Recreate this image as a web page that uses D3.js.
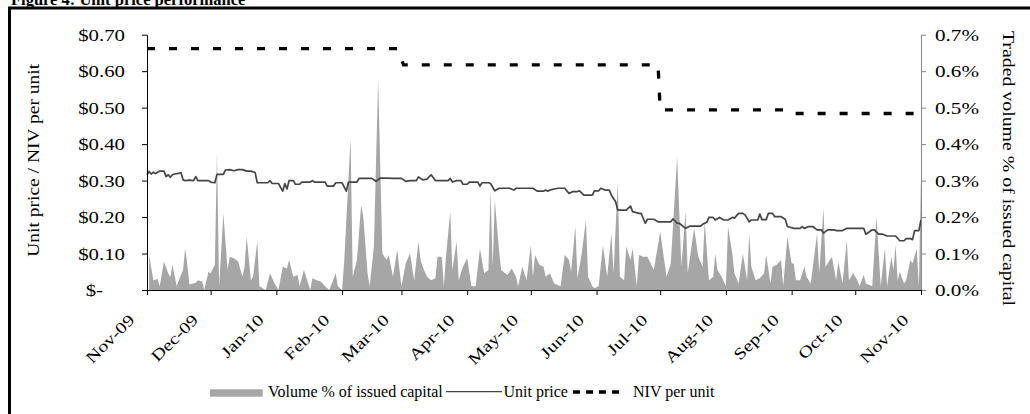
<!DOCTYPE html>
<html>
<head>
<meta charset="utf-8">
<script src="https://cdn.jsdelivr.net/npm/d3@7"></script>
<style>
  html, body { margin: 0; padding: 0; background: #fff; }
  svg { display: block; }
  text { font-family: "Liberation Serif", "Times New Roman", Times, serif; fill: #000; }
</style>
</head>
<body>
<svg id="chart" width="1030" height="414"></svg>
<script>
// ---- data -------------------------------------------------------------
const periodStart = new Date(Date.UTC(2009, 10, 1));   // 1 Nov 2009
const periodEnd   = new Date(Date.UTC(2010, 10, 1));   // 1 Nov 2010

// Traded volume, % of issued capital (day = days since 1 Nov 2009)
const volumeDay = [1,3,5,6,8,10,11,12,14,16,17,18,19,20,23,24,26,27,29,30,32,33,34,36,38,39,41,43,45,46,47,49,50,52,53,56,58,60,62,64,66,67,69,71,72,74,75,77,78,80,82,84,86,89,90,92,93,96,97,99,101,102,104,105,107,109,111,113,114,116,118,120,122,124,126,128,129,130,132,134,136,137,139,140,141,143,144,146,147,149,151,153,155,157,159,161,162,163,164,166,167,170,172,174,175,177,179,181,182,183,185,187,188,190,192,195,197,199,200,202,203,205,207,208,210,211,213,215,217,219,220,222,223,225,226,228,229,231,232,234,236,239,242,243,245,247,250,252,254,255,258,260,262,263,265,267,268,269,271,273,274,276,277,279,281,283,284,285,287,289,291,292,294,295,297,299,300,302,304,305,306,308,310,311,313,316,317,319,320,323,325,326,328,330,331,333,335,336,338,339,342,344,346,348,349,351,352,353,354,355,357,358,360,361,363,364,365];
const volumePct = [0.096,0.027,0.030,0.010,0.078,0.046,0.035,0.069,0.010,0.041,0.055,0.114,0.070,0.015,0.020,0.027,0.023,0.000,0.050,0.046,0.069,0.379,0.010,0.210,0.055,0.091,0.087,0.078,0.036,0.064,0.146,0.027,0.036,0.133,0.010,0.000,0.046,0.020,0.000,0.064,0.059,0.082,0.036,0.041,0.010,0.055,0.036,0.000,0.032,0.027,0.023,0.010,0.000,0.046,0.010,0.000,0.078,0.416,0.036,0.082,0.233,0.200,0.046,0.010,0.119,0.576,0.100,0.082,0.096,0.036,0.110,0.010,0.073,0.100,0.027,0.133,0.082,0.064,0.036,0.027,0.032,0.091,0.091,0.010,0.091,0.215,0.055,0.133,0.027,0.064,0.087,0.010,0.010,0.114,0.046,0.055,0.274,0.064,0.247,0.110,0.055,0.041,0.059,0.036,0.010,0.064,0.027,0.123,0.036,0.096,0.069,0.064,0.036,0.046,0.018,0.010,0.096,0.082,0.050,0.174,0.032,0.100,0.192,0.036,0.010,0.005,0.010,0.123,0.036,0.155,0.046,0.297,0.036,0.027,0.119,0.082,0.114,0.010,0.096,0.091,0.091,0.055,0.160,0.119,0.036,0.073,0.365,0.064,0.215,0.046,0.169,0.091,0.064,0.187,0.027,0.036,0.100,0.055,0.036,0.010,0.174,0.100,0.046,0.018,0.100,0.027,0.155,0.064,0.027,0.032,0.046,0.096,0.018,0.064,0.069,0.082,0.010,0.146,0.073,0.073,0.027,0.027,0.064,0.036,0.018,0.155,0.046,0.224,0.064,0.091,0.027,0.078,0.018,0.137,0.027,0.046,0.027,0.010,0.041,0.018,0.010,0.201,0.010,0.114,0.010,0.091,0.055,0.123,0.027,0.050,0.018,0.027,0.082,0.073,0.114,0.010,0.311];

// Unit price, $ (day = days since 1 Nov 2009)
const priceDay = [0,1,2,3,4,5,6,8,9,10,11,12,13,15,16,17,18,20,22,23,24,27,29,30,32,33,36,37,39,41,43,45,47,49,51,52,55,57,58,59,62,64,65,66,67,69,70,72,73,77,78,79,84,85,88,89,92,94,95,99,100,104,106,108,110,113,116,120,122,124,127,128,130,132,134,136,140,142,143,144,146,148,149,151,152,156,157,158,161,162,164,166,171,173,174,182,184,187,188,189,190,192,194,197,199,201,203,204,206,210,211,213,214,216,218,219,221,222,226,228,229,232,233,235,236,239,241,247,248,250,251,254,256,261,262,264,265,267,268,270,272,274,276,277,279,281,282,284,285,288,289,290,292,293,295,296,299,301,302,305,308,309,310,312,314,316,318,319,321,324,325,328,330,338,339,342,343,345,347,349,353,355,357,358,360,361,362,364,365];
const unitPrice = [0.316,0.325,0.318,0.323,0.319,0.323,0.326,0.326,0.311,0.316,0.309,0.316,0.318,0.320,0.322,0.302,0.300,0.301,0.300,0.311,0.300,0.300,0.300,0.296,0.294,0.317,0.317,0.329,0.330,0.327,0.330,0.330,0.326,0.326,0.322,0.294,0.294,0.294,0.300,0.292,0.292,0.271,0.292,0.277,0.300,0.300,0.290,0.290,0.296,0.296,0.300,0.296,0.296,0.285,0.285,0.294,0.294,0.271,0.296,0.296,0.306,0.306,0.306,0.298,0.307,0.307,0.306,0.306,0.298,0.300,0.300,0.310,0.302,0.304,0.316,0.300,0.300,0.300,0.306,0.296,0.300,0.300,0.290,0.290,0.296,0.296,0.285,0.294,0.294,0.292,0.272,0.279,0.279,0.274,0.279,0.279,0.271,0.271,0.274,0.271,0.274,0.277,0.279,0.279,0.265,0.270,0.270,0.272,0.260,0.260,0.272,0.272,0.279,0.274,0.274,0.260,0.242,0.219,0.219,0.230,0.215,0.210,0.210,0.183,0.194,0.194,0.187,0.187,0.195,0.183,0.183,0.169,0.175,0.175,0.180,0.186,0.199,0.199,0.192,0.199,0.192,0.192,0.199,0.197,0.210,0.210,0.206,0.187,0.192,0.192,0.208,0.193,0.193,0.210,0.210,0.201,0.201,0.194,0.174,0.169,0.169,0.174,0.169,0.174,0.174,0.165,0.165,0.156,0.165,0.165,0.163,0.163,0.169,0.169,0.153,0.165,0.165,0.153,0.153,0.148,0.148,0.135,0.135,0.141,0.141,0.138,0.163,0.163,0.192];

// Net indicative value per unit, $ (day = days since 1 Nov 2009)
const nivDay     = [0, 118, 121, 241, 242, 303, 305, 365];
const nivPerUnit = [0.662, 0.662, 0.617, 0.617, 0.494, 0.494, 0.484, 0.484];

const priceTicks  = [0, 0.1, 0.2, 0.3, 0.4, 0.5, 0.6, 0.7];
const volumeTicks = [0, 0.1, 0.2, 0.3, 0.4, 0.5, 0.6, 0.7];
const titleText   = "Figure 4: Unit price performance";
const leftTitle   = "Unit price / NIV per unit";
const rightTitle  = "Traded volume % of issued capital";
const legendNames = ["Volume % of issued capital", "Unit price", "NIV per unit"];

// ---- layout -----------------------------------------------------------
const plot = { left: 147, right: 921, top: 34.7, bottom: 290 };
const colors = { volume: "#a6a6a6", price: "#454545", niv: "#000", rightAxis: "#868686" };

const svg = d3.select("#chart");
const dayDate = d => d3.utcDay.offset(periodStart, d);

const x = d3.scaleUtc().domain([periodStart, periodEnd]).range([plot.left, plot.right]);
const yPrice = d3.scaleLinear().domain([0, 0.7]).range([plot.bottom, plot.top]);
const yVol   = d3.scaleLinear().domain([0, 0.7]).range([plot.bottom, plot.top]);

// frame and title
svg.append("line").attr("x1", 9.5).attr("x2", 9.5).attr("y1", 7).attr("y2", 414)
   .attr("stroke", "#000").attr("stroke-width", 3);
svg.append("line").attr("x1", 8).attr("x2", 1030).attr("y1", 8).attr("y2", 8)
   .attr("stroke", "#000").attr("stroke-width", 3);
svg.append("text").attr("x", 11).attr("y", 5)
   .attr("font-size", 16.5).attr("font-weight", "bold").text(titleText);

// volume area
const volumeData = volumeDay.map((d, i) => ({ date: dayDate(d), v: volumePct[i] }));
svg.append("path").datum(volumeData)
   .attr("fill", colors.volume)
   .attr("d", d3.area().x(d => x(d.date)).y0(yVol(0)).y1(d => yVol(d.v)));

// unit price line
const priceData = priceDay.map((d, i) => ({ date: dayDate(d), v: unitPrice[i] }));
svg.append("path").datum(priceData)
   .attr("fill", "none").attr("stroke", colors.price).attr("stroke-width", 1.7)
   .attr("stroke-linejoin", "round")
   .attr("d", d3.line().x(d => x(d.date)).y(d => yPrice(d.v)));

// NIV per unit line
const nivData = nivDay.map((d, i) => ({ date: dayDate(d), v: nivPerUnit[i] }));
svg.append("path").datum(nivData)
   .attr("fill", "none").attr("stroke", colors.niv).attr("stroke-width", 3.3)
   .attr("stroke-dasharray", "8,14")
   .attr("d", d3.line().x(d => x(d.date)).y(d => yPrice(d.v)));

// left axis ($)
const leftAxis = svg.append("g").attr("transform", `translate(${plot.left},0)`)
  .call(d3.axisLeft(yPrice).tickValues(priceTicks).tickSizeInner(5).tickSizeOuter(0)
        .tickFormat(d => d === 0 ? "$-" : "$" + d.toFixed(2)));
leftAxis.selectAll("path, line").attr("stroke", "#000");
leftAxis.selectAll("text")
  .attr("x", null).attr("dy", null)
  .attr("font-size", 16).attr("font-family", null)
  .attr("transform", d => `translate(${d === 0 ? -44 : -22},5.8) scale(1.3,1)`);

// right axis (%)
const rightAxis = svg.append("g").attr("transform", `translate(${plot.right},0)`)
  .call(d3.axisRight(yVol).tickValues(volumeTicks).tickSizeInner(5).tickSizeOuter(0)
        .tickFormat(d => d.toFixed(1) + "%"));
rightAxis.selectAll("path, line").attr("stroke", colors.rightAxis);
rightAxis.selectAll("text")
  .attr("x", null).attr("dy", null)
  .attr("font-size", 16).attr("font-family", null)
  .attr("transform", "translate(14,5.8) scale(1.32,1)");

// bottom axis (months)
const monthTicks = d3.utcMonth.range(periodStart, d3.utcDay.offset(periodEnd, 1));
const bottomAxis = svg.append("g").attr("transform", `translate(0,${plot.bottom})`)
  .call(d3.axisBottom(x).tickValues(monthTicks).tickSizeInner(5).tickSizeOuter(0)
        .tickFormat(d3.utcFormat("%b-%y")));
bottomAxis.selectAll("path, line").attr("stroke", "#000");
bottomAxis.selectAll("text")
  .attr("y", null).attr("dy", null)
  .attr("font-size", 16).attr("font-family", null)
  .attr("text-anchor", "end")
  .attr("transform", "translate(-12,31) rotate(-45) scale(1.25,1)");

// axis titles
svg.append("text")
  .attr("transform", "translate(39,160.3) rotate(-90) scale(1.22,1)")
  .attr("text-anchor", "middle").attr("font-size", 16).text(leftTitle);
svg.append("text")
  .attr("transform", "translate(1002.5,168.5) rotate(90) scale(1.24,1)")
  .attr("text-anchor", "middle").attr("font-size", 16).text(rightTitle);

// legend
const legend = svg.append("g").attr("font-size", 16);
legend.append("rect").attr("x", 210).attr("y", 389.3).attr("width", 52.7).attr("height", 7.4)
  .attr("fill", colors.volume);
legend.append("text").attr("x", 268).attr("y", 396.5).text(legendNames[0]);
legend.append("line").attr("x1", 446).attr("x2", 502).attr("y1", 391.7).attr("y2", 391.7)
  .attr("stroke", colors.price).attr("stroke-width", 1.3);
legend.append("text").attr("x", 503.5).attr("y", 396.5).text(legendNames[1]);
legend.append("line").attr("x1", 573).attr("x2", 620).attr("y1", 392).attr("y2", 392)
  .attr("stroke", colors.niv).attr("stroke-width", 3.3).attr("stroke-dasharray", "7,6");
legend.append("text").attr("x", 633).attr("y", 396.5).text(legendNames[2]);
</script>
</body>
</html>
